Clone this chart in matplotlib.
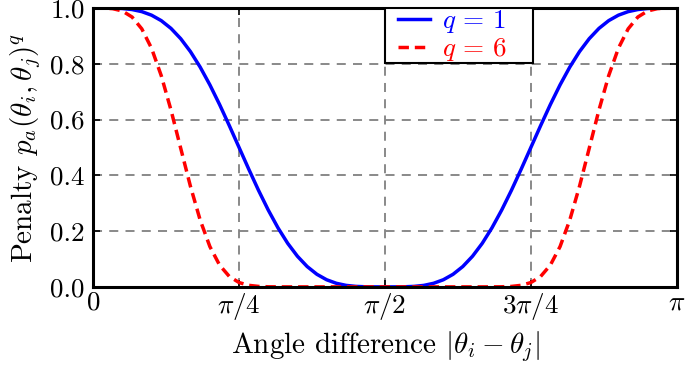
import numpy as np
import matplotlib
matplotlib.use("Agg")
import matplotlib.pyplot as plt
from matplotlib.patches import Rectangle

plt.rcParams['font.family'] = 'serif'
plt.rcParams['font.serif'] = ['cmr10', 'DejaVu Serif']
plt.rcParams['mathtext.fontset'] = 'cm'
plt.rcParams['axes.unicode_minus'] = False

# sample angles (degrees) at which values were read
angles_deg = list(range(0, 181, 3))

penalty_q1 = [1.0000, 1.0000, 0.9996, 0.9982, 0.9946, 0.9871, 0.9744, 0.9548, 0.9270, 0.8901,
              0.8438, 0.7882, 0.7244, 0.6537, 0.5781, 0.5000, 0.4219, 0.3463, 0.2756, 0.2118,
              0.1562, 0.1099, 0.0730, 0.0452, 0.0256, 0.0129, 0.0054, 0.0018, 0.0004, 0.0000,
              0.0000,
              0.0000, 0.0004, 0.0018, 0.0054, 0.0129, 0.0256, 0.0452, 0.0730, 0.1099, 0.1562,
              0.2118, 0.2756, 0.3463, 0.4219, 0.5000, 0.5781, 0.6537, 0.7244, 0.7882, 0.8438,
              0.8901, 0.9270, 0.9548, 0.9744, 0.9871, 0.9946, 0.9982, 0.9996, 1.0000, 1.0000]

penalty_q6 = [1.0000, 0.9999, 0.9978, 0.9894, 0.9678, 0.9253, 0.8559, 0.7575, 0.6344, 0.4972,
              0.3608, 0.2398, 0.1445, 0.0780, 0.0373, 0.0156, 0.0056, 0.0017, 0.0004, 0.0001,
              0.0000, 0.0000, 0.0000, 0.0000, 0.0000, 0.0000, 0.0000, 0.0000, 0.0000, 0.0000,
              0.0000,
              0.0000, 0.0000, 0.0000, 0.0000, 0.0000, 0.0000, 0.0000, 0.0000, 0.0000, 0.0000,
              0.0001, 0.0004, 0.0017, 0.0056, 0.0156, 0.0373, 0.0780, 0.1445, 0.2398, 0.3608,
              0.4972, 0.6344, 0.7575, 0.8559, 0.9253, 0.9678, 0.9894, 0.9978, 0.9999, 1.0000]

xtick_vals = [0, np.pi / 4, np.pi / 2, 3 * np.pi / 4, np.pi]
xtick_labels = [r'$0$', r'$\pi/4$', r'$\pi/2$', r'$3\pi/4$', r'$\pi$']
ytick_vals = [0.0, 0.2, 0.4, 0.6, 0.8, 1.0]
series_labels = [r'$q\, =\, 1$', r'$q\, =\, 6$']

x = np.deg2rad(angles_deg)

fig = plt.figure(figsize=(6.85, 3.65), dpi=100)
ax = fig.add_axes([0.136, 0.214, 0.852, 0.764])

l1, = ax.plot(x, penalty_q1, color='#0000ff', lw=2.5, label=series_labels[0])
l2, = ax.plot(x, penalty_q6, color='#ff0000', lw=2.5, ls=(0, (3.0, 1.7)), label=series_labels[1])

ax.set_xlim(0, np.pi)
ax.set_ylim(0, 1)
ax.set_xticks(xtick_vals)
ax.set_xticklabels(xtick_labels)
ax.set_yticks(ytick_vals)
ax.set_yticklabels([f'{v:.1f}' for v in ytick_vals])
ax.tick_params(direction='in', length=5, width=1.2, top=True, right=True,
               labelsize=19.5)
ax.tick_params(axis='x', pad=3)
ax.tick_params(axis='y', pad=6)
for s in ax.spines.values():
    s.set_linewidth(2.2)
ax.grid(True, color='#808080', ls=(0, (5, 4)), lw=1.3)
ax.set_axisbelow(True)

ax.set_xlabel(r'Angle difference $|\theta_i - \theta_j|$', fontsize=21, labelpad=5)
ax.set_ylabel(r'Penalty $p_a(\theta_i,\theta_j)^q$', fontsize=21, labelpad=5)

# legend frame drawn separately to match the reference box
ax.add_patch(Rectangle((0.5, 0.8036), 0.2534, 0.1964, transform=ax.transAxes,
                       facecolor='white', edgecolor='black', lw=1.5, zorder=4))
leg = ax.legend(loc='upper left', bbox_to_anchor=(0.522, 1.0), borderaxespad=0,
                frameon=False, fontsize=19.5, handlelength=1.2, handletextpad=0.45,
                borderpad=0.0, labelspacing=0.05)
leg.set_zorder(5)
for t, c in zip(leg.get_texts(), ['#0000ff', '#ff0000']):
    t.set_color(c)

fig.savefig('out.png', dpi=100)
